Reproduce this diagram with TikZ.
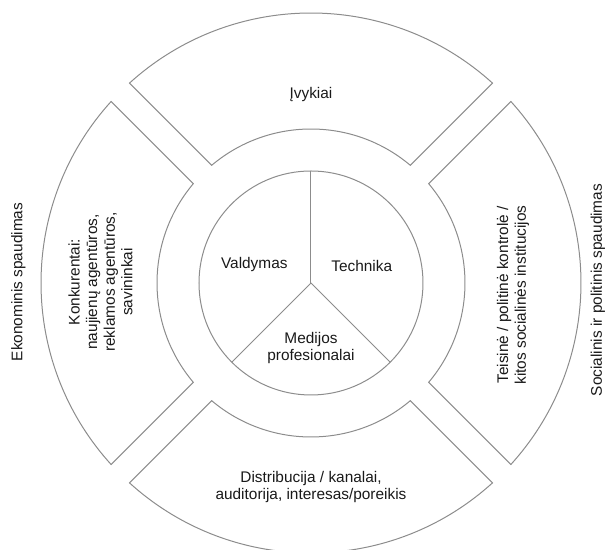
\documentclass[tikz,border=0pt]{standalone}
\usepackage{fontspec}
\setmainfont{Liberation Sans}
\begin{document}
\begin{tikzpicture}[x=0.5pt,y=0.5pt,
    ring/.style={draw=black!45, line width=0.5pt},
    lbl/.style={align=center, text=black!90, font=\fontsize{7.7}{8.8}\selectfont}]
    \useasboundingbox (-311,-267) rectangle (296,283);
    % four outer segments
    \foreach \r in {0,90,180,270} {
      \draw[ring] ({\r+45+asin(13/154)}:154) arc[start angle={\r+45+asin(13/154)}, end angle={\r+135-asin(13/154)}, radius=154]
        -- ({\r+135-asin(13/270)}:270) arc[start angle={\r+135-asin(13/270)}, end angle={\r+45+asin(13/270)}, radius=270] -- cycle;
    }
    % inner pie
    \draw[ring] (0,0) circle[radius=112];
    \draw[ring] (0,0) -- (90:112);
    \draw[ring] (0,0) -- (225:112);
    \draw[ring] (0,0) -- (315:112);
    \node[lbl] (valdymas) at (-56.7,18) {Valdymas};
    \node[lbl] (technika) at (50.7,17) {Technika};
    \node[lbl] (medijos) at (0,-65) {Medijos\\profesionalai};
    % segment labels
    \node[lbl] (ivykiai) at (0,188) {Įvykiai};
    \node[lbl] (distrib) at (0,-204) {Distribucija / kanalai,\\auditorija, interesas/poreikis};
    \node[lbl, rotate=90] (konkur) at (-210.5,1) {Konkurentai:\\naujienų agentūros,\\reklamos agentūros,\\savininkai};
    \node[lbl, rotate=90] (teisine) at (202,-12) {Teisinė / politinė kontrolė /\\kitos socialinės institucijos};
    % outside labels
    \node[lbl, rotate=90] (ekon) at (-292.7,1) {Ekonominis spaudimas};
    \node[lbl, rotate=90] (social) at (287,-7) {Socialinis ir politinis spaudimas};
\end{tikzpicture}
\end{document}
